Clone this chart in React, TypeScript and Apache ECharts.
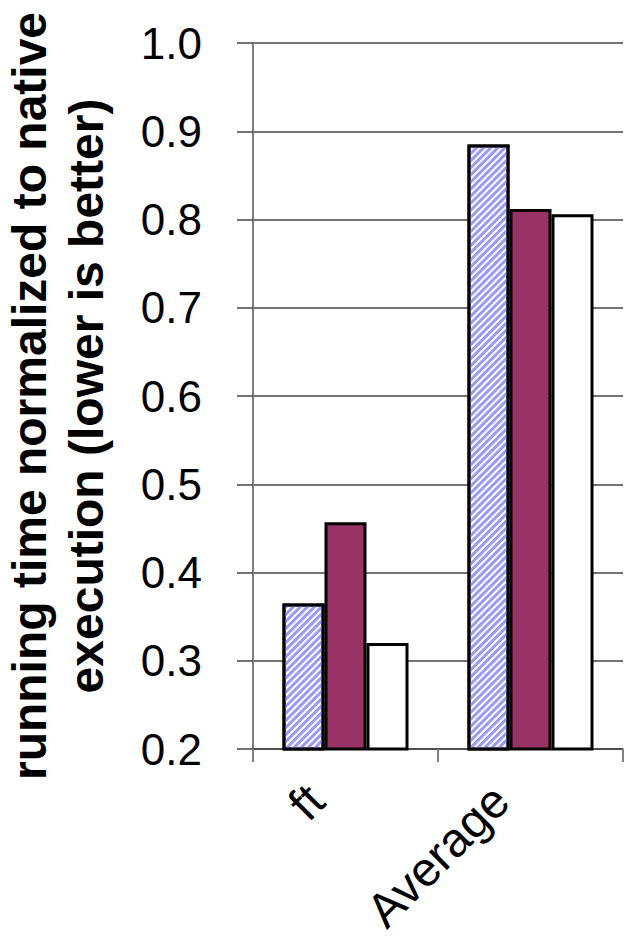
import React, { useEffect, useRef } from "react";
import * as echarts from "echarts";

// Benchmarks on the category axis
const categories = ["ft", "Average"];

// Normalized running time per configuration (lower is better)
const seriesNames = ["Config A", "Config B", "Config C"];
const configA = [0.365, 0.885];
const configB = [0.457, 0.812];
const configC = [0.32, 0.806];

// Value axis range and step
const yMin = 0.2;
const yMax = 1.0;
const yStep = 0.1;

const axisFont = '"Liberation Sans", Arial, Helvetica, sans-serif';

export default function App() {
  const ref = useRef<HTMLDivElement>(null);

  useEffect(() => {
    if (!ref.current) return;
    const chart = echarts.init(ref.current, undefined, { renderer: "svg" });

    const barBase = {
      type: "bar" as const,
      barWidth: 42,
      barGap: "0%",
    };

    chart.setOption({
      animation: false,
      backgroundColor: "#ffffff",
      grid: {
        left: 253,
        right: 11,
        top: 43,
        bottom: 190,
        containLabel: false,
        outerBoundsMode: "none",
      },
      xAxis: {
        type: "category",
        data: categories,
        axisLine: { show: true, lineStyle: { color: "#444444", width: 1.5 } },
        axisTick: { show: true, length: 13, lineStyle: { color: "#808080", width: 2 } },
        axisLabel: {
          rotate: 45,
          margin: 14,
          padding: [0, 42, 0, 0],
          fontSize: 48,
          fontFamily: axisFont,
          color: "#000000",
        },
        splitLine: { show: false },
      },
      yAxis: {
        type: "value",
        min: yMin,
        max: yMax,
        interval: yStep,
        name: "running time normalized to native\nexecution (lower is better)",
        nameLocation: "middle",
        nameGap: 138,
        nameTextStyle: {
          fontSize: 48,
          fontWeight: "bold",
          fontFamily: axisFont,
          color: "#000000",
          lineHeight: 57,
        },
        axisLine: { show: true, lineStyle: { color: "#808080", width: 2 } },
        axisTick: { show: true, length: 16, lineStyle: { color: "#444444", width: 1.5 } },
        axisLabel: {
          margin: 51,
          fontSize: 44,
          fontFamily: axisFont,
          color: "#000000",
          formatter: (v: number) => v.toFixed(1),
        },
        splitLine: { show: true, lineStyle: { color: "#444444", width: 1.5 } },
      },
      series: [
        {
          ...barBase,
          name: seriesNames[0],
          data: configA,
          itemStyle: {
            color: "#ffffff",
            borderColor: "#000000",
            borderWidth: 3,
            decal: {
              symbol: "rect",
              symbolSize: 1,
              dashArrayX: [1, 0],
              dashArrayY: [3, 2],
              rotation: -Math.PI / 4,
              color: "#9a9af5",
            },
          },
        },
        {
          ...barBase,
          name: seriesNames[1],
          data: configB,
          itemStyle: { color: "#993366", borderColor: "#000000", borderWidth: 3 },
        },
        {
          ...barBase,
          name: seriesNames[2],
          data: configC,
          itemStyle: { color: "#ffffff", borderColor: "#000000", borderWidth: 3 },
        },
      ],
    });

    return () => chart.dispose();
  }, []);

  return (
    <div
      ref={ref}
      style={{ position: "absolute", left: 0, top: 0, width: 634, height: 939 }}
    />
  );
}
